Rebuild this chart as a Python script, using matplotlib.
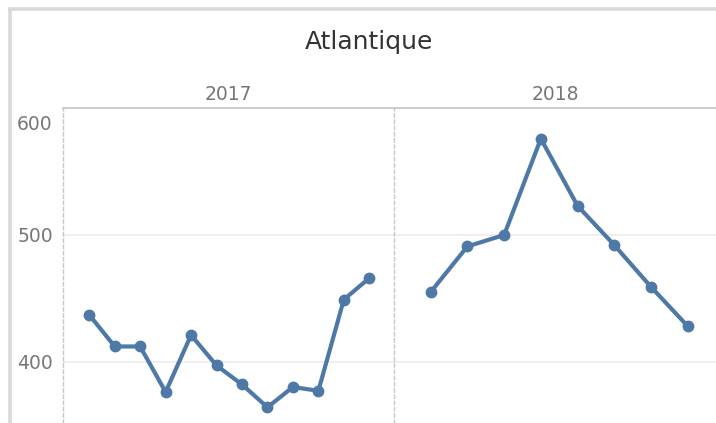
import matplotlib.pyplot as plt
import matplotlib.transforms as mtransforms
from matplotlib.lines import Line2D

# monthly values
months_2017 = [1, 2, 3, 4, 5, 6, 7, 8, 9, 10, 11, 12]
values_2017 = [437, 412, 412, 376, 421, 397, 382, 364, 380, 377, 449, 466]
months_2018 = [1, 2, 3, 4, 5, 6, 7, 8]
values_2018 = [455, 491, 500, 576, 523, 492, 459, 428]

title = 'Atlantique'
years = ['2017', '2018']
yticks = [400, 500, 600]

blue = '#4e79a7'
grid = '#ececec'
edge = '#c8c8c8'
txt = '#777777'

plt.rcParams['font.family'] = ['DejaVu Sans']

W, H = 716, 423
fig = plt.figure(figsize=(W / 100, H / 100), dpi=100)

# outer frame (top and left edges only are visible)
fig.add_artist(Line2D([9.5 / W, 9.5 / W], [0, 1 - 8 / H], color='#d9d9d9', lw=2.6,
                      transform=fig.transFigure, solid_capstyle='butt'))
fig.add_artist(Line2D([8 / W, 1], [1 - 9.5 / H, 1 - 9.5 / H], color='#d9d9d9', lw=2.6,
                      transform=fig.transFigure, solid_capstyle='butt'))

top = 108.3
x0, xmid = 62.5, 394
ax1 = fig.add_axes([x0 / W, 0, (xmid - x0) / W, (H - top) / H])
ax2 = fig.add_axes([xmid / W, 0, (W - xmid) / W, (H - top) / H])

panes = [(ax1, months_2017, values_2017, (-0.05, 12.97)),
         (ax2, months_2018, values_2018, (0.0, 8.77))]

for ax, m, v, xl in panes:
    ax.plot(m, v, color=blue, lw=3.0, marker='o', ms=7.5, solid_capstyle='round',
            solid_joinstyle='round', zorder=3)
    ax.set_xlim(*xl)
    ax.set_ylim(351.6, 600)
    ax.set_yticks(yticks)
    ax.set_xticks([])
    for y in yticks[:-1]:
        ax.axhline(y, color=grid, lw=1.2, zorder=1)
    for s in ['right', 'bottom']:
        ax.spines[s].set_visible(False)
    ax.spines['top'].set_color(edge)
    ax.spines['top'].set_linewidth(1.3)
    ax.spines['left'].set_color(edge)
    ax.spines['left'].set_linewidth(1.0)
    ax.spines['left'].set_linestyle((0, (2.5, 2)))
    ax.tick_params(axis='y', length=0, pad=7, labelsize=13.5, labelcolor=txt)

ax2.tick_params(axis='y', labelleft=False)

# the top tick label sits a little below its gridline
fig.canvas.draw()
lab = ax1.get_yticklabels()[-1]
lab.set_transform(lab.get_transform() +
                  mtransforms.ScaledTranslation(0, -0.14, fig.dpi_scale_trans))

for ax, yr in zip([ax1, ax2], years):
    ax.set_title(yr, fontsize=13.5, color=txt, pad=6)

fig.text(369 / W, 1 - 42 / H, title, ha='center', va='center', fontsize=18, color='#333333')

fig.savefig('out.png', dpi=100)
